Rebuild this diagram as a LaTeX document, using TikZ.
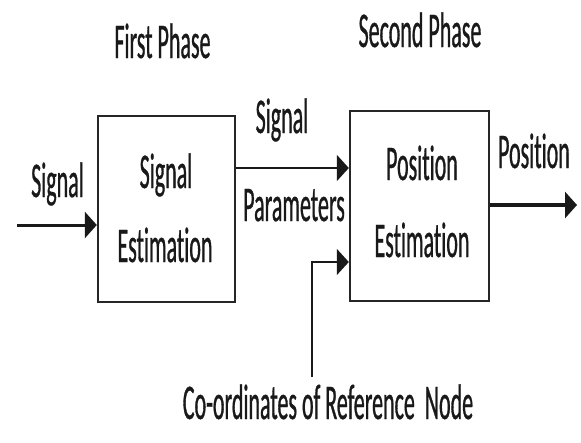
\documentclass[tikz,border=0pt]{standalone}
\usepackage{fontspec}
\setmainfont{Carlito}[FakeStretch=0.44, FakeBold=0.6, Ligatures=NoCommon]
\usetikzlibrary{arrows.meta}
\begin{document}
\begin{tikzpicture}[x=1pt, y=-1pt,
  lbl/.style={anchor=base, inner sep=0pt, font=\fontsize{50}{52}\selectfont, text=black!90},
  block/.style={draw=black!85, line width=2.4pt, inner sep=0pt},
  arr/.style={draw=black!90, -{Triangle[length=12pt, width=26pt]}},
]
\useasboundingbox (0,0) rectangle (581,442);

% processing blocks
\node[block, minimum width=137pt, minimum height=186pt] (est) at (166.5,209) {};
\node[block, minimum width=139pt, minimum height=190pt] (pos) at (419.5,206) {};

% phase headings
\node[lbl] (ph1) at (162.5,58) {First Phase};
\node[lbl] (ph2) at (420,47) {Second Phase};

% block texts
\node[lbl] (t1a) at (166,188) {Signal};
\node[lbl] (t1b) at (165,262) {Estimation};
\node[lbl] (t2a) at (422,180) {Position};
\node[lbl] (t2b) at (422,257) {Estimation};

% connector labels
\node[lbl] (sin) at (57.5,197) {Signal};
\node[lbl] (spa) at (282,133) {Signal};
\node[lbl] (spb) at (294,221) {Parameters};
\node[lbl] (sout) at (534,168) {Position};
\node[lbl] (sref) at (328,419) {Co-ordinates of Reference\ \ Node};

% free ends of connectors
\coordinate (in) at (17,225);
\coordinate (out) at (577,205);
\coordinate (ref) at (312,377);
\coordinate (refk) at (312,262);

% connectors
\draw[arr, line width=3pt] (in) -- (in -| est.west);
\draw[arr, line width=2pt] (est.east |- 0,168) -- (pos.west |- 0,168);
\draw[arr, line width=4pt] (pos.east |- out) -- (out);
\draw[arr, line width=1.6pt] (ref) -- (refk) -- (refk -| pos.west);
\end{tikzpicture}
\end{document}
